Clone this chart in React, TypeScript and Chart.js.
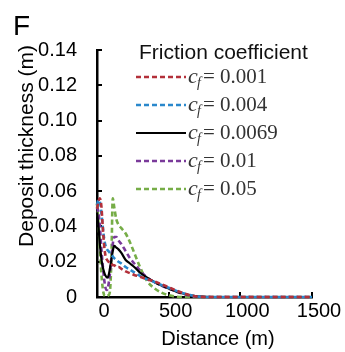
import { useEffect, useRef } from "react";
import { Chart, registerables } from "chart.js";

Chart.register(...registerables);

// Distance along the profile (m)
const distances = [0, 10, 20, 30, 40, 50, 60, 70, 80, 90, 100, 110, 120, 135, 150, 170, 200, 230, 260, 300, 350, 400, 450, 500, 550, 600, 650, 700, 800, 1000, 1500];

// Friction coefficient values (legend)
const cfLabels = ["0.001", "0.004", "0.0069", "0.01", "0.05"];

// Deposit thickness (m) for each friction coefficient
const thicknessCf0001 = [0.05, 0.054, 0.056, 0.052, 0.04, 0.029, 0.023, 0.021, 0.02, 0.019, 0.019, 0.018, 0.018, 0.017, 0.017, 0.016, 0.0145, 0.0135, 0.0125, 0.0115, 0.01, 0.0088, 0.0072, 0.0055, 0.0038, 0.0022, 0.001, 0.0003, 0, 0, 0];
const thicknessCf0004 = [0.052, 0.055, 0.054, 0.048, 0.04, 0.033, 0.029, 0.027, 0.026, 0.025, 0.024, 0.023, 0.022, 0.021, 0.02, 0.019, 0.017, 0.0155, 0.014, 0.012, 0.01, 0.0085, 0.0068, 0.0052, 0.0036, 0.0022, 0.0011, 0.0003, 0, 0, 0];
const thicknessCf0069 = [0.048, 0.04, 0.03, 0.022, 0.017, 0.014, 0.012, 0.011, 0.012, 0.016, 0.021, 0.026, 0.029, 0.028, 0.027, 0.025, 0.021, 0.019, 0.017, 0.0138, 0.011, 0.0085, 0.0065, 0.0048, 0.0032, 0.002, 0.001, 0.0004, 0, 0, 0];
const thicknessCf001 = [0.051, 0.048, 0.04, 0.028, 0.018, 0.01, 0.005, 0.004, 0.007, 0.013, 0.022, 0.03, 0.034, 0.034, 0.032, 0.03, 0.026, 0.022, 0.019, 0.015, 0.011, 0.0085, 0.0065, 0.0048, 0.0032, 0.0018, 0.0008, 0.0002, 0, 0, 0];
const thicknessCf005 = [0.053, 0.042, 0.028, 0.014, 0.005, 0.001, 0.0005, 0.0005, 0.001, 0.003, 0.02, 0.056, 0.051, 0.044, 0.041, 0.039, 0.036, 0.031, 0.025, 0.017, 0.009, 0.005, 0.0025, 0.001, 0.0002, 0, 0, 0, 0, 0, 0];

const seriesValues = [thicknessCf0001, thicknessCf0004, thicknessCf0069, thicknessCf001, thicknessCf005];
const seriesColors = ["#B3303A", "#2A88CC", "#000000", "#7A3A9A", "#76AD47"];
const seriesDashed = [true, true, false, true, true];

// Axis ticks
const xTickValues = [0, 500, 1000, 1500];
const xTickLabels = ["0", "500", "1000", "1500"];

const SANS = "'Liberation Sans', Arial, sans-serif";
const SERIF = "'Liberation Serif', 'Times New Roman', serif";

const insideTicks = {
  id: "insideTicks",
  beforeDatasetsDraw(chart: any) {
    const { ctx, scales } = chart;
    const x = scales.x;
    const y = scales.y;
    ctx.save();
    ctx.strokeStyle = "#000";
    ctx.lineWidth = 2;
    y.ticks.forEach((t: any) => {
      const py = Math.round(y.getPixelForValue(t.value));
      ctx.beginPath();
      ctx.moveTo(y.right, py);
      ctx.lineTo(y.right + 5, py);
      ctx.stroke();
    });
    x.ticks.forEach((t: any) => {
      if (t.value === 0) return;
      const px = Math.round(x.getPixelForValue(t.value));
      ctx.beginPath();
      ctx.moveTo(px, x.top);
      ctx.lineTo(px, x.top - 5);
      ctx.stroke();
    });
    ctx.restore();
  },
};

const customText = {
  id: "customText",
  afterDraw(chart: any) {
    const { ctx, scales } = chart;
    ctx.save();
    ctx.fillStyle = "#000";
    ctx.textBaseline = "alphabetic";

    // X tick labels, placed through the x scale
    ctx.font = `20px ${SANS}`;
    ctx.textAlign = "center";
    xTickValues.forEach((v, i) => {
      const px = scales.x.getPixelForValue(v);
      ctx.fillText(xTickLabels[i], px + 7, 317);
    });

    // Panel letter
    ctx.font = `28px ${SANS}`;
    ctx.textAlign = "left";
    ctx.fillText("F", 13, 35);

    // Y axis title
    ctx.save();
    ctx.translate(33, 146);
    ctx.rotate(-Math.PI / 2);
    ctx.font = `21px ${SANS}`;
    ctx.textAlign = "center";
    ctx.fillText("Deposit thickness (m)", 0, 0);
    ctx.restore();

    // X axis title
    ctx.font = `20px ${SANS}`;
    ctx.textAlign = "center";
    ctx.fillText("Distance (m)", 218, 345);

    // Legend
    ctx.textAlign = "left";
    ctx.font = `21px ${SANS}`;
    ctx.fillStyle = "#111";
    ctx.fillText("Friction coefficient", 139, 59);
    chart.data.datasets.forEach((ds: any, i: number) => {
      const ly = 77 + 28 * i;
      ctx.save();
      ctx.strokeStyle = ds.borderColor;
      ctx.lineWidth = ds.borderWidth;
      ctx.setLineDash(ds.borderDash || []);
      ctx.beginPath();
      ctx.moveTo(136, ly);
      ctx.lineTo(186, ly);
      ctx.stroke();
      ctx.restore();
      ctx.fillStyle = "#333";
      ctx.font = `italic 22px ${SERIF}`;
      ctx.fillText("c", 188, ly + 6);
      ctx.font = `italic 14px ${SERIF}`;
      ctx.fillText("f", 197, ly + 10);
      ctx.font = `21px ${SERIF}`;
      ctx.fillText("= " + cfLabels[i], 203, ly + 6);
    });
    ctx.restore();
  },
};

export default function App() {
  const canvasRef = useRef<HTMLCanvasElement | null>(null);

  useEffect(() => {
    if (!canvasRef.current) return;
    const datasets = seriesValues.map((vals, i) => ({
      label: cfLabels[i],
      data: distances.map((d, j) => ({ x: d, y: vals[j] })),
      borderColor: seriesColors[i],
      backgroundColor: seriesColors[i],
      borderWidth: seriesDashed[i] ? 2.6 : 2.2,
      borderDash: seriesDashed[i] ? [5, 3] : [],
      pointRadius: 0,
      fill: false,
      cubicInterpolationMode: "monotone" as const,
      clip: false as any,
    }));
    const chart = new Chart(canvasRef.current, {
      type: "line",
      data: { datasets },
      options: {
        animation: false,
        responsive: false,
        devicePixelRatio: 1,
        layout: { padding: { top: 50, right: 33, left: 0, bottom: 0 } },
        plugins: { legend: { display: false }, tooltip: { enabled: false } },
        scales: {
          x: {
            type: "linear",
            min: 0,
            max: 1500,
            afterFit: (s: any) => {
              s.height = 55;
            },
            afterBuildTicks: (s: any) => {
              s.ticks = xTickValues.map((v) => ({ value: v }));
            },
            ticks: { display: false },
            grid: { display: false },
            border: { color: "#000", width: 2.5 },
          },
          y: {
            min: 0,
            max: 0.14,
            afterFit: (s: any) => {
              s.width = 97;
            },
            ticks: {
              stepSize: 0.02,
              font: { size: 20, family: SANS },
              color: "#000",
              padding: 12,
              callback: (v: any) => (Number(v) === 0 ? "0" : Number(v).toFixed(2)),
            },
            grid: { display: false },
            border: { color: "#000", width: 2.5 },
          },
        },
      },
      plugins: [insideTicks, customText],
    });
    return () => chart.destroy();
  }, []);

  return (
    <div style={{ position: "fixed", left: 0, top: 0, width: 345, height: 352, background: "#fff" }}>
      <canvas ref={canvasRef} width={345} height={352} style={{ display: "block", width: 345, height: 352 }} />
    </div>
  );
}
